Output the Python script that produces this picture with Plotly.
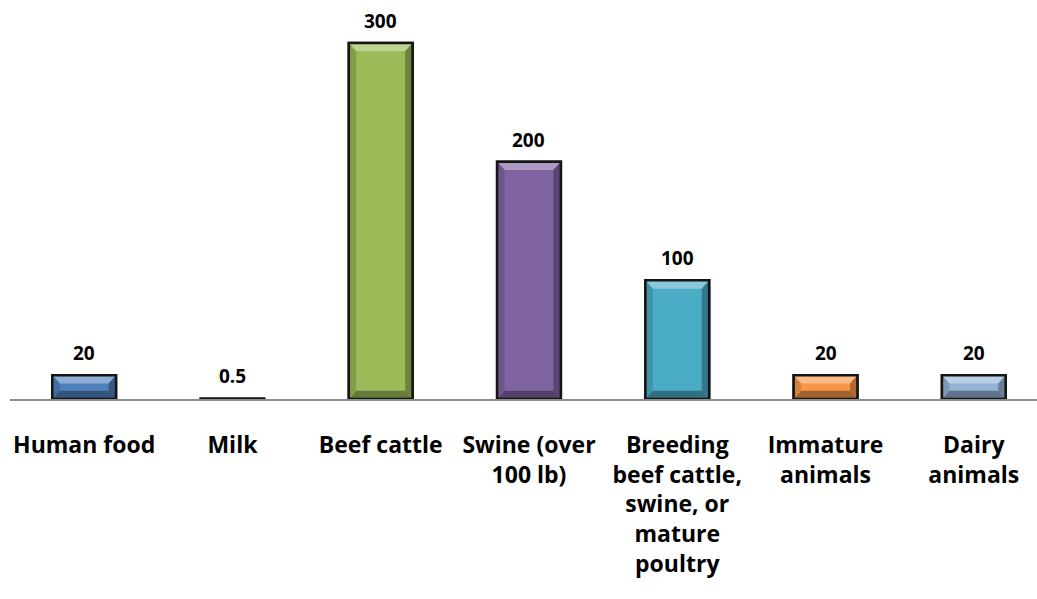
import plotly.graph_objects as go

categories = ["Human food", "Milk", "Beef cattle", "Swine (over 100 lb)",
              "Breeding beef cattle, swine, or mature poultry",
              "Immature animals", "Dairy animals"]
tick_labels = ["Human food", "Milk", "Beef cattle", "Swine (over<br>100 lb)",
               "Breeding<br>beef cattle,<br>swine, or<br>mature<br>poultry",
               "Immature<br>animals", "Dairy<br>animals"]
values = [20, 0.5, 300, 200, 100, 20, 20]
value_text = ["20", "0.5", "300", "200", "100", "20", "20"]
colors = ["#4F81BD", "#3a3a3a", "#9BBB59", "#8064A2", "#4BACC6", "#F79646", "#95B3D7"]

BAR_W = 0.43
Y_MAX = 319.4

fig = go.Figure()
fig.add_trace(go.Bar(
    x=list(range(len(values))), y=values, width=BAR_W,
    marker=dict(color=colors, line=dict(color="#151515", width=2.5)),
    showlegend=False, hoverinfo="skip",
))

# value labels above each bar
for i, (v, t) in enumerate(zip(values, value_text)):
    fig.add_annotation(x=i, y=v, xref="x", yref="y", text=t, showarrow=False,
                       yanchor="bottom", yshift=7,
                       font=dict(family="Open Sans", size=19, color="#000000", weight="bold"))


def hex_mix(c, t, amt):
    c = c.lstrip("#"); t = t.lstrip("#")
    a = [int(c[i:i + 2], 16) for i in (0, 2, 4)]
    b = [int(t[i:i + 2], 16) for i in (0, 2, 4)]
    m = [round(a[i] + (b[i] - a[i]) * amt) for i in range(3)]
    return "#%02x%02x%02x" % tuple(m)


# bevel facets on each bar, derived from the bar's value
dx = 0.05
dy = 7.0
shapes = []
for i, (v, c) in enumerate(zip(values, colors)):
    if v < 2:
        continue
    hy = min(dy, v / 2.0)
    x0, x1 = i - BAR_W / 2, i + BAR_W / 2
    top = v
    facets = [
        # top (light)
        ([(x0, top), (x1, top), (x1 - dx, top - hy), (x0 + dx, top - hy)], hex_mix(c, "#ffffff", 0.35)),
        # bottom (dark)
        ([(x0, 0), (x1, 0), (x1 - dx, hy), (x0 + dx, hy)], hex_mix(c, "#000000", 0.35)),
        # left side
        ([(x0, 0), (x0, top), (x0 + dx, top - hy), (x0 + dx, hy)], hex_mix(c, "#000000", 0.15)),
        # right side
        ([(x1, 0), (x1, top), (x1 - dx, top - hy), (x1 - dx, hy)], hex_mix(c, "#000000", 0.3)),
    ]
    for pts, col in facets:
        path = "M " + " L ".join(f"{px},{py}" for px, py in pts) + " Z"
        shapes.append(dict(type="path", path=path, xref="x", yref="y",
                           fillcolor=col, line=dict(width=0), layer="above"))
    # outline over the facets
    shapes.append(dict(type="rect", xref="x", yref="y", x0=x0, x1=x1, y0=0, y1=top,
                       line=dict(color="#151515", width=2.5), layer="above"))

fig.update_layout(
    width=1037, height=599,
    margin=dict(l=10, r=0, t=20, b=200),
    paper_bgcolor="white", plot_bgcolor="white",
    shapes=shapes,
    font=dict(family="Open Sans", color="#000000"),
    xaxis=dict(
        tickmode="array", tickvals=list(range(len(values))), ticktext=tick_labels,
        range=[-0.5, 6.426], showline=True, linecolor="#8c8c8c", linewidth=2,
        showgrid=False, zeroline=False, ticks="", ticklabelstandoff=24,
        tickfont=dict(family="Open Sans", size=23, color="#000000", weight="bold"),
        tickangle=0, fixedrange=True,
    ),
    yaxis=dict(range=[0, Y_MAX], visible=False, showgrid=False, zeroline=False),
)

fig.write_html("out.html")
